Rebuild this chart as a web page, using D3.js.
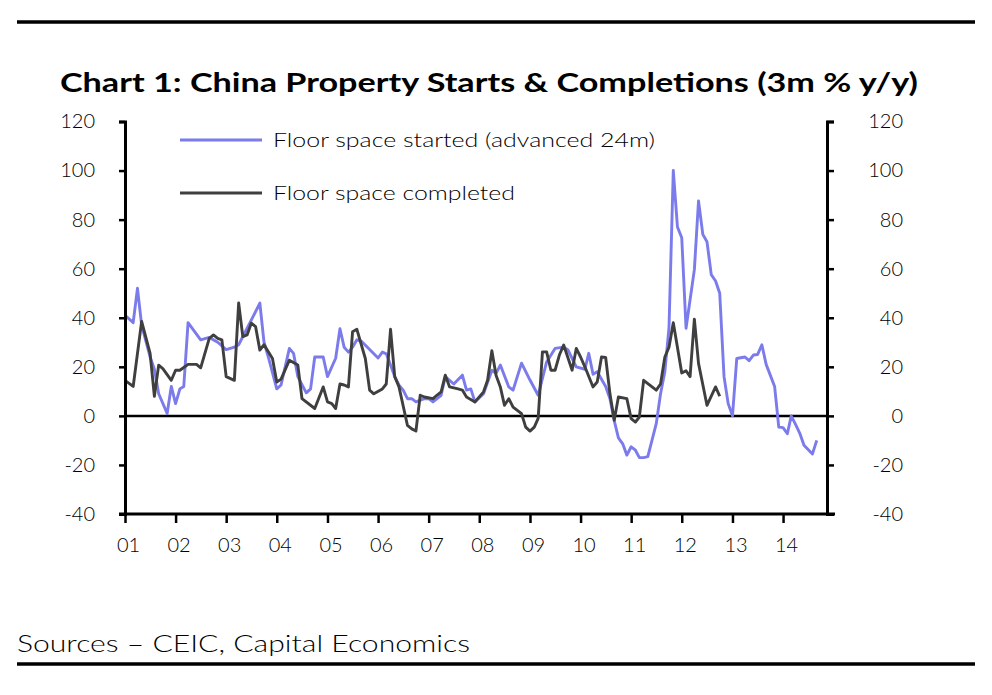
<!DOCTYPE html>
<html><head><meta charset="utf-8">
<script src="https://cdn.jsdelivr.net/npm/d3@7/dist/d3.min.js"></script>
<style>body{margin:0;background:#fff} svg{display:block}</style>
</head><body>
<svg id="c" width="992" height="695"></svg>
<script>
const yearLabels = ["01","02","03","04","05","06","07","08","09","10","11","12","13","14"];
const yTicks = [-40,-20,0,20,40,60,80,100,120];
const seriesNames = ["Floor space started (advanced 24m)", "Floor space completed"];

const startMonths = ["2001-01","2001-03","2001-04","2001-05","2001-07","2001-08","2001-09","2001-11","2001-12",
"2002-01","2002-02","2002-03","2002-04","2002-07","2002-09","2002-11",
"2003-01","2003-03","2003-04","2003-07","2003-09","2003-10","2003-11",
"2004-01","2004-02","2004-04","2004-05","2004-06","2004-08","2004-09","2004-10","2004-12",
"2005-01","2005-03","2005-04","2005-05","2005-06","2005-07","2005-08","2005-09",
"2006-01","2006-02","2006-03","2006-04","2006-05","2006-06","2006-07","2006-08","2006-09","2006-10","2006-12",
"2007-01","2007-02","2007-04","2007-05","2007-07","2007-09","2007-10","2007-11","2007-12",
"2008-02","2008-04","2008-05","2008-06","2008-08","2008-09","2008-11",
"2009-01","2009-03","2009-05","2009-07","2009-09","2009-10","2009-12",
"2010-02","2010-03","2010-04","2010-05","2010-07","2010-08","2010-09","2010-10","2010-11","2010-12",
"2011-01","2011-02","2011-03","2011-04","2011-05","2011-07","2011-08","2011-09","2011-10","2011-11","2011-12",
"2012-01","2012-02","2012-04","2012-05","2012-06","2012-07","2012-08","2012-09","2012-10","2012-11","2012-12",
"2013-01","2013-02","2013-04","2013-05","2013-06","2013-07","2013-08","2013-09","2013-11","2013-12",
"2014-01","2014-02","2014-03","2014-04","2014-05","2014-06","2014-08","2014-09"];
const startValues = [41,38,52,37,24,19,9,1,12,
5,11,12,38,31,32,30,
27,28,29,39,46,30,24,
11,12.6,27.5,25.5,16,9.4,11,24,24,
16,23.5,35.5,28,26,28,31,30.5,
23.6,26,25.3,20.7,16,12.5,10.5,7,7,5.7,7,
7,5.7,8.4,16,13,16.6,10.5,11,5.7,
9,18.6,17.3,20.7,11.8,10.5,21.5,
14.6,8.4,22,27.5,28,27,20,
19,25.5,17,18,12,7,-2,-9,-11.4,-16,
-12.6,-14,-17,-17,-16.6,-3.2,9,18,36,100,77,
72.6,35.7,59.6,87.6,74,71,57.6,55,50,16,5,
0,23.4,24,22.5,24.8,25,29,21,12,-4.6,
-4.8,-7.3,0,-3.5,-7,-12,-15.5,-10];

const complMonths = ["2001-01","2001-03","2001-05","2001-07","2001-08","2001-09","2001-10","2001-12",
"2002-01","2002-02","2002-04","2002-06","2002-07","2002-09","2002-10","2002-11","2002-12",
"2003-01","2003-03","2003-04","2003-05","2003-06","2003-07","2003-08","2003-09","2003-10","2003-12",
"2004-01","2004-02","2004-04","2004-06","2004-07","2004-10","2004-12",
"2005-01","2005-02","2005-03","2005-04","2005-05","2005-06","2005-07","2005-08","2005-10","2005-11","2005-12",
"2006-02","2006-03","2006-04","2006-05","2006-06","2006-08","2006-09","2006-10","2006-11","2006-12",
"2007-02","2007-03","2007-04","2007-05","2007-06","2007-08","2007-09","2007-10","2007-12",
"2008-02","2008-03","2008-04","2008-05","2008-06","2008-07","2008-08","2008-09","2008-11","2008-12",
"2009-01","2009-02","2009-03","2009-04","2009-05","2009-06","2009-07","2009-08","2009-09","2009-11","2009-12",
"2010-01","2010-02","2010-04","2010-05","2010-06","2010-07","2010-08","2010-09","2010-10","2010-12",
"2011-01","2011-02","2011-03","2011-04","2011-06","2011-07","2011-08","2011-09","2011-10","2011-11",
"2012-01","2012-02","2012-03","2012-04","2012-05","2012-07","2012-09","2012-10"];
const complValues = [14.5,12,38.5,25.5,8,20.7,19.3,14.5,
18.6,18.6,21,21,19.6,31.6,33,31.6,31,
16,14.5,46,32.3,33,37.8,36.4,26.8,29,23.4,
13.8,15,22.7,20.7,7,3,11.8,
5.7,5,3,13,12.6,11.8,34.3,35.3,23.4,10.5,9,
11,13,35.3,16,11.8,-3.9,-5.3,-6.2,8.4,7.7,
7,8.4,9.8,16.6,11.8,11,10.5,7.7,5.7,
9.8,14.5,26.6,16.6,11.8,4.3,7,3.6,0.9,-4.6,
-6.2,-4.6,-1,26.1,26.1,18.6,18.6,24.8,28.9,18.6,27.5,
24,20,11.8,13.8,24,23.8,9,-1.8,7.7,7,
-1.1,-2.5,-0.5,14.5,11.8,10.5,13,24,28,38,
17.5,18.4,16,39.4,21.4,4.3,11.8,8];

const FONT = "Lato, 'Open Sans', sans-serif";
const svg = d3.select("#c");
const parse = d3.timeParse("%Y-%m");

const x = d3.scaleTime().domain([new Date(2001,0,1), new Date(2014,10,14)]).range([125, 827]);
const y = d3.scaleLinear().domain([-40,120]).range([514, 121.5]);
const fmt = d => String(d);

// rules
svg.append("line").attr("x1",17).attr("x2",975).attr("y1",22).attr("y2",22).attr("stroke","#000").attr("stroke-width",3.5);
svg.append("line").attr("x1",17).attr("x2",975).attr("y1",664).attr("y2",664).attr("stroke","#000").attr("stroke-width",3.5);

// title
svg.append("text").attr("x",60).attr("y",92).attr("font-family",FONT).attr("font-weight",700)
  .attr("font-size",27).attr("textLength",858).attr("lengthAdjust","spacingAndGlyphs")
  .text("Chart 1: China Property Starts & Completions (3m % y/y)");

// sources
svg.append("text").attr("x",17).attr("y",652).attr("font-family",FONT).attr("font-weight",300)
  .attr("font-size",24).attr("textLength",453).attr("lengthAdjust","spacingAndGlyphs")
  .text("Sources – CEIC, Capital Economics");

// zero line
svg.append("line").attr("x1",x.range()[0]).attr("x2",x.range()[1]).attr("y1",y(0)).attr("y2",y(0))
  .attr("stroke","#000").attr("stroke-width",2.5);

// lines
const line = d3.line().x(d=>x(d.date)).y(d=>y(d.v));
const startData = startMonths.map((m,i)=>({date:parse(m), v:startValues[i]}));
const complData = complMonths.map((m,i)=>({date:parse(m), v:complValues[i]}));
svg.append("path").datum(startData).attr("d",line).attr("fill","none").attr("stroke","#7b7bec").attr("stroke-width",2.9).attr("stroke-linejoin","round");
svg.append("path").datum(complData).attr("d",line).attr("fill","none").attr("stroke","#3f3f3f").attr("stroke-width",2.9).attr("stroke-linejoin","round");

// left axis
const yl = svg.append("g").attr("transform","translate(125,0)")
  .call(d3.axisLeft(y).tickValues(yTicks).tickSize(6).tickPadding(24).tickFormat(fmt));
// right axis
const yr = svg.append("g").attr("transform","translate(827,0)")
  .call(d3.axisRight(y).tickValues(yTicks).tickSize(7).tickPadding(10).tickFormat(fmt));
yr.selectAll("text").attr("text-anchor","end").attr("dx","59");
// bottom axis
const years = yearLabels.map((s,i)=>new Date(2001+i,0,1));
const xa = svg.append("g").attr("transform","translate(0,514)")
  .call(d3.axisBottom(x).tickValues(years).tickSize(9).tickPadding(15).tickFormat((d,i)=>yearLabels[i]));
xa.select(".domain").attr("d","M119,0H835");

[yl,yr,xa].forEach(g=>{
  g.select(".domain").attr("stroke","#000").attr("stroke-width",3);
  g.selectAll(".tick line").attr("stroke","#000").attr("stroke-width",2.5);
  g.selectAll("text").attr("font-family",FONT).attr("font-weight",300).attr("font-size",20).attr("fill","#000");
});
xa.selectAll("text").attr("dx","3");

// legend
const leg = [{c:"#7b7bec", yy:140}, {c:"#3f3f3f", yy:193}];
leg.forEach((l,i)=>{
  svg.append("line").attr("x1",180).attr("x2",262).attr("y1",l.yy).attr("y2",l.yy).attr("stroke",l.c).attr("stroke-width",2.9);
  svg.append("text").attr("x",273).attr("y",l.yy+7).attr("font-family",FONT).attr("font-weight",300)
    .attr("font-size",20).attr("textLength", i===0?382:242).attr("lengthAdjust","spacingAndGlyphs").text(seriesNames[i]);
});
</script>
</body></html>
